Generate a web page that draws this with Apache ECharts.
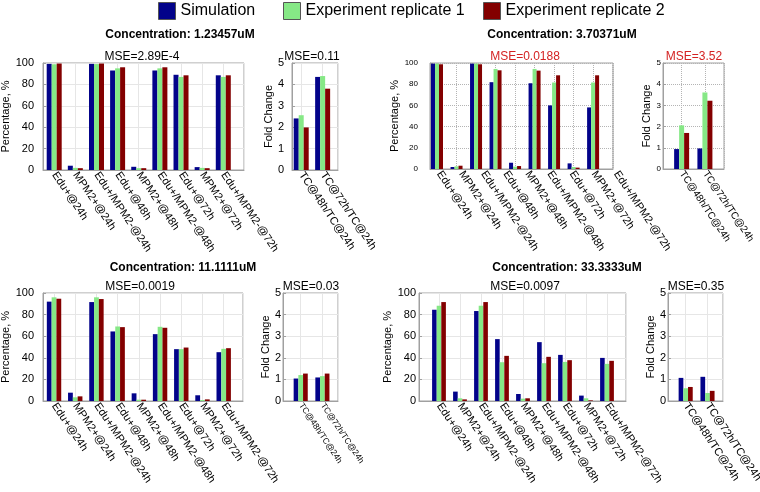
<!DOCTYPE html>
<html><head><meta charset="utf-8">
<script src="https://cdn.jsdelivr.net/npm/echarts@6/dist/echarts.min.js"></script>
<style>html,body{margin:0;padding:0;background:#fff}#c{width:760px;height:492px}</style>
</head><body><div id="c"></div>
<script>
// ---------------- DATA ----------------
const categories = ['Edu+@24h','MPM2+@24h','Edu+/MPM2-@24h','Edu+@48h','MPM2+@48h','Edu+/MPM2-@48h','Edu+@72h','MPM2+@72h','Edu+/MPM2-@72h'];
const foldCategories = ['TC@48h/TC@24h','TC@72h/TC@24h'];
const seriesNames = ['Simulation','Experiment replicate 1','Experiment replicate 2'];
const concentrationTitles = ['Concentration: 1.23457uM','Concentration: 3.70371uM','Concentration: 11.1111uM','Concentration: 33.3333uM'];
const pctAxisName = 'Percentage, %';
const foldAxisName = 'Fold Change';

// 1.23457 uM
const sim1  = [99.2, 4.0, 99.2, 93.0, 3.0, 93.0, 89.0, 2.7, 88.5];
const rep1a = [98.8, 2.0, 99.0, 95.0, 1.7, 95.0, 87.0, 2.0, 87.0];
const rep2a = [99.5, 1.7, 99.5, 96.0, 1.7, 96.0, 88.5, 1.7, 88.5];
const foldSim1 = [2.41, 4.35];
const foldRep1a = [2.56, 4.39];
const foldRep2a = [1.99, 3.80];
const mse1 = 'MSE=2.89E-4';
const foldMse1 = 'MSE=0.11';

// 3.70371 uM
const sim2  = [99.4, 1.9, 99.4, 81.9, 5.9, 80.9, 60.0, 5.3, 58.1];
const rep1b = [99.4, 2.5, 99.4, 94.4, 2.2, 94.4, 81.6, 1.9, 81.6];
const rep2b = [98.8, 3.1, 98.8, 93.1, 2.8, 92.8, 88.4, 1.3, 88.4];
const foldSim2 = [0.94, 0.97];
const foldRep1b = [2.06, 3.61];
const foldRep2b = [1.70, 3.22];
const mse2 = 'MSE=0.0188';
const foldMse2 = 'MSE=3.52';

// 11.1111 uM
const sim3  = [92.0, 7.7, 91.6, 64.4, 7.1, 61.9, 48.0, 5.3, 45.2];
const rep1c = [96.0, 3.4, 96.0, 69.0, 1.2, 68.7, 48.0, 0.9, 48.3];
const rep2c = [94.7, 4.3, 94.4, 68.4, 1.2, 67.8, 49.5, 1.5, 48.9];
const foldSim3 = [1.04, 1.09];
const foldRep1c = [1.20, 1.15];
const foldRep2c = [1.27, 1.27];
const mse3 = 'MSE=0.0019';
const foldMse3 = 'MSE=0.03';

// 33.3333 uM
const sim4  = [84.5, 8.7, 83.3, 57.3, 6.5, 54.5, 42.7, 5.0, 39.9];
const rep1d = [88.2, 2.5, 88.2, 35.9, 2.2, 35.0, 36.2, 2.5, 34.4];
const rep2d = [91.6, 1.5, 91.6, 41.8, 2.5, 40.9, 37.8, 0.6, 37.2];
const foldSim4 = [1.07, 1.12];
const foldRep1d = [0.59, 0.37];
const foldRep2d = [0.65, 0.47];
const mse4 = 'MSE=0.0097';
const foldMse4 = 'MSE=0.35';

const pctTicks = [0, 20, 40, 60, 80, 100];
const foldTicks = [0, 1, 2, 3, 4, 5];

const mainValues = [[sim1,rep1a,rep2a],[sim2,rep1b,rep2b],[sim3,rep1c,rep2c],[sim4,rep1d,rep2d]];
const foldValues = [[foldSim1,foldRep1a,foldRep2a],[foldSim2,foldRep1b,foldRep2b],[foldSim3,foldRep1c,foldRep2c],[foldSim4,foldRep1d,foldRep2d]];
const mseTexts = [mse1, mse2, mse3, mse4];
const foldMseTexts = [foldMse1, foldMse2, foldMse3, foldMse4];

// ---------------- LAYOUT / STYLE ----------------
const colors = ['#03038a', '#86e886', '#830000'];
const font = "'Liberation Sans', Arial, sans-serif";
const red = '#d42222';

const layouts = [
  { main: {left:43, top:63, w:201, h:107, xmin:0.47, xmax:9.98, barW:5, yFs:11, yMargin:9, nameGap:30, xFs:11, gridType:'solid', mseX:142, mseColor:'#000'},
    fold: {left:292, top:63, w:46, h:107, xmin:0.57, xmax:2.717, barW:5, yFs:11, yMargin:8, nameGap:18, xFs:11, gridType:'solid', mseX:312, mseColor:'#000'},
    titleX:180, titleTop:29, mseTop:51 },
  { main: {left:430, top:63, w:183, h:106, xmin:0.64, xmax:10.02, barW:4, yFs:8, yMargin:12, nameGap:28, xFs:11, gridType:'dotted', mseX:525, mseColor:red, labelGrid:{left:428, w:199}},
    fold: {left:663, top:63, w:61, h:106, xmin:0.2, xmax:2.82, barW:5, yFs:8, yMargin:2, nameGap:8, xFs:10, gridType:'dotted', mseX:694, mseColor:red},
    titleX:562, titleTop:29, mseTop:51 },
  { main: {left:43, top:293, w:200, h:108, xmin:0.48, xmax:9.91, barW:4.8, yFs:11, yMargin:9, nameGap:30, xFs:11, gridType:'solid', mseX:140, mseColor:'#000'},
    fold: {left:283, top:293, w:55, h:108, xmin:0.184, xmax:2.719, barW:4.7, yFs:11, yMargin:2, nameGap:10, xFs:8.5, gridType:'solid', mseX:311, mseColor:'#000'},
    titleX:183, titleTop:262, mseTop:281 },
  { main: {left:419, top:293, w:207, h:108, xmin:0.048, xmax:9.905, barW:4.6, yFs:11, yMargin:3, nameGap:22, xFs:11, gridType:'solid', mseX:525, mseColor:'#000'},
    fold: {left:668, top:293, w:55, h:108, xmin:0.19, xmax:2.71, barW:4.7, yFs:11, yMargin:2, nameGap:9, xFs:11, gridType:'solid', mseX:696, mseColor:'#000'},
    titleX:567, titleTop:262, mseTop:281 }
];

const grids = [], xAxes = [], yAxes = [], series = [], titles = [];

function splitStyle(type) {
  return type === 'dotted'
    ? {show:true, lineStyle:{color:'#b4b4b4', type:'dotted', width:1}}
    : {show:true, lineStyle:{color:'#e6e6e6', type:'solid', width:1}};
}

function addPlot(cfg, cats, values, ticks, axisName) {
  const gi = grids.length;
  const showXLabels = !cfg.labelGrid;
  grids.push({left:cfg.left, top:cfg.top, width:cfg.w, height:cfg.h, show:true,
    borderColor:'#a0a0a0', borderWidth:1, backgroundColor:'#fff', containLabel:false, outerBoundsMode:'none'});
  const xi = xAxes.length;
  xAxes.push({type:'value', gridIndex:gi, min:cfg.xmin, max:cfg.xmax, splitNumber:9, minInterval:1, maxInterval:1,
    axisLine:{show:true, lineStyle:{color:'#a0a0a0'}}, axisTick:{show:false},
    splitLine:splitStyle(cfg.gridType),
    axisLabel:{show:showXLabels, rotate:-56, fontSize:cfg.xFs, fontFamily:font, color:'#000', margin:3,
      formatter: v => { const r = Math.round(v); return (Math.abs(v - r) < 1e-6 && r >= 1 && r <= cats.length) ? cats[r - 1] : ''; }}});
  const yi = yAxes.length;
  yAxes.push({type:'value', gridIndex:gi, min:ticks[0], max:ticks[ticks.length-1], interval:ticks[1]-ticks[0],
    name:axisName, nameLocation:'middle', nameRotate:90, nameGap:cfg.nameGap,
    nameTextStyle:{fontSize:11, fontFamily:font, color:'#000'},
    axisLine:{show:true, lineStyle:{color:'#a0a0a0'}},
    axisTick:{show:true, inside:true, length:3, lineStyle:{color:'#a0a0a0'}},
    axisLabel:{fontSize:cfg.yFs, fontFamily:font, color:'#000', margin:cfg.yMargin},
    splitLine:splitStyle(cfg.gridType)});
  values.forEach((vals, s) => {
    series.push({type:'bar', name:seriesNames[s], xAxisIndex:xi, yAxisIndex:yi,
      data: vals.map((v, i) => [i + 1, v]), barWidth:cfg.barW, barGap:'0%',
      itemStyle:{color:colors[s]}, emphasis:{disabled:true}});
  });
  if (cfg.labelGrid) {
    const lg = grids.length;
    grids.push({left:cfg.labelGrid.left, top:cfg.top, width:cfg.labelGrid.w, height:cfg.h, show:false, containLabel:false, outerBoundsMode:'none'});
    xAxes.push({type:'category', gridIndex:lg, data:cats, boundaryGap:true,
      axisLine:{show:false}, axisTick:{show:false}, splitLine:{show:false},
      axisLabel:{interval:0, rotate:-56, fontSize:cfg.xFs, fontFamily:font, color:'#000', margin:3}});
    yAxes.push({type:'value', gridIndex:lg, show:false});
  }
}

layouts.forEach((p, k) => {
  addPlot(p.main, categories, mainValues[k], pctTicks, pctAxisName);
  addPlot(p.fold, foldCategories, foldValues[k], foldTicks, foldAxisName);
  titles.push({text:concentrationTitles[k], left:p.titleX, top:p.titleTop, textAlign:'center', padding:0,
    textStyle:{fontFamily:font, fontWeight:'bold', fontSize:12, color:'#000'}});
  titles.push({text:mseTexts[k], left:p.main.mseX, top:p.mseTop, textAlign:'center', padding:0,
    textStyle:{fontFamily:font, fontWeight:'normal', fontSize:12, color:p.main.mseColor}});
  titles.push({text:foldMseTexts[k], left:p.fold.mseX, top:p.mseTop, textAlign:'center', padding:0,
    textStyle:{fontFamily:font, fontWeight:'normal', fontSize:12, color:p.fold.mseColor}});
});

const legendLefts = [158, 283, 483];
const legends = seriesNames.map((n, i) => ({
  data:[n], left:legendLefts[i], top:2, itemWidth:17, itemHeight:17, itemGap:0, icon:'rect',
  selectedMode:false, padding:0,
  itemStyle:{borderColor:'#555', borderWidth:1},
  textStyle:{fontSize:16, fontFamily:font, color:'#000'}
}));

const chart = echarts.init(document.getElementById('c'), null, {renderer:'canvas'});
chart.setOption({
  animation:false, backgroundColor:'#fff',
  title:titles, legend:legends, grid:grids, xAxis:xAxes, yAxis:yAxes, series:series
});
</script>
</body></html>
